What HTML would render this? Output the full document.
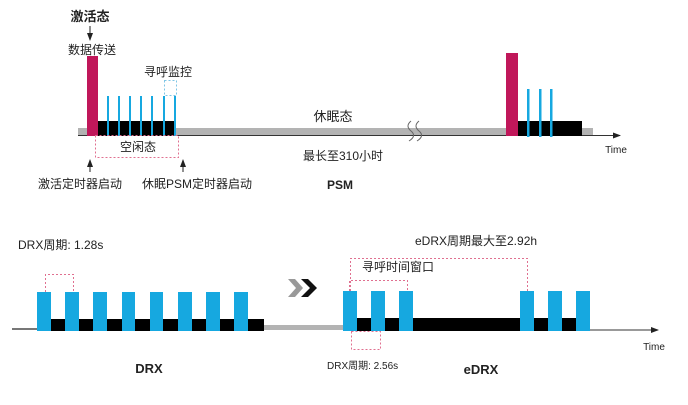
<!DOCTYPE html>
<html><head><meta charset="utf-8"><style>
html,body{margin:0;padding:0;background:#fff}
svg text{font-family:"Liberation Sans","Noto Sans CJK SC",sans-serif;fill:#222}
</style></head><body>
<svg width="688" height="400" viewBox="0 0 688 400" xmlns="http://www.w3.org/2000/svg">
<defs><marker id="a" markerWidth="8" markerHeight="6" refX="7" refY="3" orient="auto"><path d="M0,0 L8,3 L0,6 z" fill="#222"/></marker></defs>
<rect x="78" y="128" width="515" height="8" fill="#b3b3b3"/>
<line x1="78" y1="135.5" x2="620" y2="135.5" stroke="#333" stroke-width="1" marker-end="url(#a)"/>
<rect x="87" y="56" width="11" height="80" fill="#c0175a"/>
<rect x="98" y="121" width="78" height="15" fill="#000"/>
<g fill="#16a8e0">
<rect x="107" y="96" width="2" height="40"/><rect x="118" y="96" width="2" height="40"/><rect x="129" y="96" width="2" height="40"/><rect x="140" y="96" width="2" height="40"/><rect x="151" y="96" width="2" height="40"/><rect x="163" y="96" width="2" height="40"/><rect x="174" y="96" width="2" height="40"/>
</g>
<rect x="164.5" y="80.5" width="12" height="15" fill="none" stroke="#7fc6e6" stroke-dasharray="2,2"/>
<rect x="95.5" y="135.5" width="83" height="22" fill="none" stroke="#e07090" stroke-dasharray="2,2"/>
<text x="138" y="151" font-size="12" text-anchor="middle">空闲态</text>
<text x="90" y="21" font-size="13" font-weight="bold" text-anchor="middle">激活态</text>
<line x1="90" y1="26" x2="90" y2="40" stroke="#222" marker-end="url(#a)"/>
<text x="92" y="54" font-size="12" text-anchor="middle">数据传送</text>
<text x="168" y="76" font-size="12" text-anchor="middle">寻呼监控</text>
<line x1="90" y1="172" x2="90" y2="160" stroke="#222" marker-end="url(#a)"/>
<line x1="183" y1="172" x2="183" y2="160" stroke="#222" marker-end="url(#a)"/>
<text x="80" y="188" font-size="12" text-anchor="middle">激活定时器启动</text>
<text x="197" y="188" font-size="12" text-anchor="middle">休眠PSM定时器启动</text>
<text x="333" y="121" font-size="13" text-anchor="middle">休眠态</text>
<text x="343" y="160" font-size="12" text-anchor="middle">最长至310小时</text>
<text x="340" y="189" font-size="12" font-weight="bold" text-anchor="middle">PSM</text>
<path d="M411,121 q-6,5 0,10 q6,5 -2,10 M419,121 q-6,5 0,10 q6,5 -2,10" fill="none" stroke="#666" stroke-width="1"/>
<rect x="506" y="53" width="12" height="83" fill="#c0175a"/>
<rect x="518" y="121" width="64" height="15" fill="#000"/>
<g fill="#16a8e0"><rect x="527" y="89" width="2.5" height="48"/><rect x="539" y="89" width="2.5" height="48"/><rect x="550" y="89" width="2.5" height="48"/></g>
<text x="616" y="153" font-size="10" text-anchor="middle">Time</text>
<text x="18" y="249" font-size="12">DRX周期: 1.28s</text>
<line x1="12" y1="329" x2="343" y2="329" stroke="#777" stroke-width="2"/>
<rect x="264" y="325" width="80" height="5" fill="#b3b3b3"/>
<rect x="51" y="319" width="213" height="12" fill="#000"/>
<g fill="#16a8e0">
<rect x="37" y="292" width="14" height="39"/><rect x="65" y="292" width="14" height="39"/><rect x="93" y="292" width="14" height="39"/><rect x="122" y="292" width="13" height="39"/><rect x="150" y="292" width="13" height="39"/><rect x="178" y="292" width="14" height="39"/><rect x="206" y="292" width="14" height="39"/><rect x="234" y="292" width="14" height="39"/>
</g>
<path d="M45.5,292 V274.5 H73.5 V292" fill="none" stroke="#e07090" stroke-dasharray="2,2"/>
<path d="M288,279 h7 l8,9 l-8,9 h-7 l8,-9z" fill="#999"/>
<path d="M301,279 h7 l9,9 l-9,9 h-7 l9,-9z" fill="#111"/>
<text x="149" y="373" font-size="13" font-weight="bold" text-anchor="middle">DRX</text>
<line x1="343" y1="330" x2="658" y2="330" stroke="#333" stroke-width="1" marker-end="url(#a)"/>
<rect x="357" y="318" width="219" height="13" fill="#000"/>
<g fill="#16a8e0">
<rect x="343" y="291" width="14" height="40"/><rect x="371" y="291" width="14" height="40"/><rect x="399" y="291" width="14" height="40"/><rect x="520" y="291" width="14" height="40"/><rect x="548" y="291" width="14" height="40"/><rect x="576" y="291" width="14" height="40"/>
</g>
<g fill="none" stroke="#e07090" stroke-dasharray="2,2">
<path d="M350.5,291 V258.5 H527.5 V291"/>
<path d="M349.5,291 V280.5 H407.5 V291"/>
<rect x="351.5" y="331.5" width="29" height="18"/>
</g>
<text x="362" y="271" font-size="12">寻呼时间窗口</text>
<text x="415" y="245" font-size="12">eDRX周期最大至2.92h</text>
<text x="327" y="369" font-size="10">DRX周期: 2.56s</text>
<text x="481" y="374" font-size="13" font-weight="bold" text-anchor="middle">eDRX</text>
<text x="654" y="350" font-size="10" text-anchor="middle">Time</text>
</svg>
</body></html>
